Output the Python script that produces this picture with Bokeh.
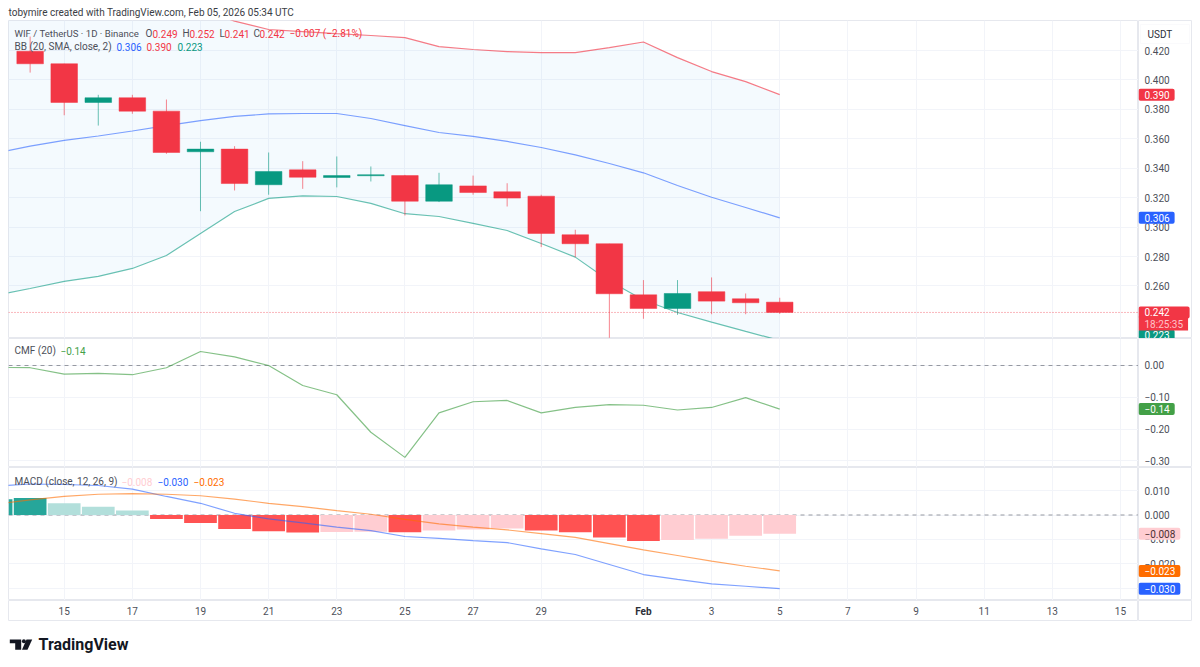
from bokeh.core.properties import value
from bokeh.embed import file_html
from bokeh.layouts import column, row
from bokeh.models import BoxAnnotation, ColumnDataSource, FixedTicker, Label, Range1d, Span
from bokeh.plotting import figure
from bokeh.resources import INLINE

# ---------------- data ----------------
candle_days = list(range(14, 37))
opens  = [0.4195,0.4110,0.3847,0.3879,0.3788,0.3512,0.3530,0.3288,0.3389,0.3337,0.3349,0.3350,0.3176,0.3280,0.3240,0.3210,0.2948,0.2887,0.2540,0.2447,0.2561,0.2513,0.2490]
highs  = [0.4295,0.4110,0.3899,0.3899,0.3867,0.3580,0.3550,0.3507,0.3448,0.3480,0.3412,0.3355,0.3369,0.3350,0.3298,0.3220,0.2982,0.2887,0.2640,0.2640,0.2658,0.2549,0.2520]
lows   = [0.4050,0.3760,0.3690,0.3770,0.3498,0.3108,0.3249,0.3220,0.3260,0.3270,0.3310,0.3079,0.3170,0.3220,0.3140,0.2864,0.2796,0.2248,0.2377,0.2404,0.2408,0.2408,0.2410]
closes = [0.4110,0.3847,0.3879,0.3788,0.3507,0.3530,0.3296,0.3378,0.3339,0.3350,0.3356,0.3176,0.3288,0.3235,0.3197,0.2957,0.2887,0.2547,0.2447,0.2549,0.2497,0.2486,0.2420]

line_days = list(range(13, 37))
bb_upper = [0.480,0.475,0.470,0.465,0.460,0.455,0.448,0.4400,0.4343,0.4329,0.4315,0.4302,0.4288,0.4227,0.4207,0.4193,0.4186,0.4186,0.4220,0.4258,0.4152,0.4057,0.3989,0.3900]
bb_basis = [0.3504,0.3550,0.3589,0.3619,0.3653,0.3690,0.3724,0.3752,0.3769,0.3772,0.3772,0.3738,0.3690,0.3643,0.3616,0.3582,0.3541,0.3491,0.3432,0.3369,0.3283,0.3203,0.3133,0.3063]
bb_lower = [0.2536,0.2583,0.2631,0.2665,0.2719,0.2807,0.2957,0.3106,0.3195,0.3212,0.3208,0.3161,0.3091,0.3072,0.3025,0.2977,0.2889,0.2796,0.2634,0.2505,0.2420,0.2354,0.2291,0.2230]

cmf_values = [-0.006,-0.007,-0.027,-0.025,-0.029,-0.007,0.044,0.027,0.000,-0.063,-0.092,-0.210,-0.289,-0.149,-0.114,-0.110,-0.149,-0.132,-0.123,-0.125,-0.140,-0.132,-0.101,-0.137]

macd_hist = [0.0065,0.0070,0.0048,0.0034,0.0018,-0.0016,-0.0033,-0.0057,-0.0067,-0.0072,-0.0070,-0.0069,-0.0071,-0.0063,-0.0059,-0.0055,-0.0064,-0.0071,-0.0092,-0.0107,-0.0102,-0.0097,-0.0085,-0.0077]
macd_line = [0.0119,0.0127,0.0125,0.0121,0.0106,0.0076,0.0048,0.0007,-0.0016,-0.0032,-0.0050,-0.0064,-0.0088,-0.0096,-0.0105,-0.0113,-0.0139,-0.0162,-0.0203,-0.0244,-0.0264,-0.0282,-0.0292,-0.0302]
macd_signal = [0.0045,0.0062,0.0076,0.0085,0.0088,0.0085,0.0079,0.0065,0.0048,0.0034,0.0018,0.0003,-0.0018,-0.0036,-0.0050,-0.0061,-0.0076,-0.0092,-0.0117,-0.0143,-0.0166,-0.0189,-0.0210,-0.0229]

tick_days = [15,17,19,21,23,25,27,29,34,36,38,40,42,44,46]
tick_labels = ["15","17","19","21","23","25","27","29","3","5","7","9","11","13","15"]
month_day = 32
month_label = "Feb"
price_ticks = [0.26,0.28,0.30,0.32,0.34,0.36,0.38,0.40,0.42]
price_tick_labels = ["0.260","0.280","0.300","0.320","0.340","0.360","0.380","0.400","0.420"]
cmf_ticks = [0.0,-0.1,-0.2,-0.3]
cmf_tick_labels = ["0.00","−0.10","−0.20","−0.30"]
macd_ticks = [0.01,0.0,-0.01,-0.02,-0.03]
macd_tick_labels = ["0.010","0.000","−0.010","−0.020","−0.030"]

# ---------------- styling ----------------
FONT = "Roboto"
RED, GREEN, BLUE, ORANGE = "#f23645", "#089981", "#2962ff", "#ff6d00"
GRID, EDGE, TXT = "#f2f4f9", "#e6e8ee", "#4c4f59"
X_RANGE = (13.365, 46.53)
FIG_W = 1130
RIGHT = 54
LEFT = 8
LW = 1.2


def bare(width, height, x_range, y_range, left=0):
    """A figure whose plotting frame is the whole of its canvas (plus an optional left margin)."""
    p = figure(frame_width=width, frame_height=height, output_backend="svg", toolbar_location=None,
               x_range=x_range, y_range=y_range, x_axis_location=None, y_axis_location=None,
               min_border_left=left, min_border_right=0, min_border_top=0, min_border_bottom=0,
               background_fill_color="white", border_fill_color="white")
    p.outline_line_color = None
    p.xgrid.visible = False
    p.ygrid.visible = False
    return p


def make_pane(y_range, frame_h, y_ticks):
    p = bare(FIG_W, frame_h, Range1d(*X_RANGE), Range1d(*y_range), left=LEFT)
    p.outline_line_color = EDGE
    all_days = sorted(tick_days + [month_day])
    p.xgrid.visible = True
    p.ygrid.visible = True
    p.xgrid.ticker = FixedTicker(ticks=all_days)
    p.ygrid.ticker = FixedTicker(ticks=y_ticks)
    p.xgrid.grid_line_color = GRID
    p.ygrid.grid_line_color = GRID
    return p


def make_strip(pane, frame_h, ticks, labels):
    s = bare(RIGHT, frame_h, Range1d(0, RIGHT), pane.y_range)
    s.outline_line_color = EDGE
    src = ColumnDataSource(dict(x=[6] * len(ticks), y=ticks, t=labels))
    s.text("x", "y", "t", source=src, text_font=value(FONT), text_font_size="10px", text_color=TXT,
           text_baseline="middle", text_align="left")
    return s


def text(p, frame_bottom, px, py, s, color=TXT, size="10px", style="normal", left=8):
    p.add_layout(Label(x=px - left, y=frame_bottom - py, x_units="screen", y_units="screen", text=s,
                       text_color=color, text_font=FONT, text_font_size=size, text_font_style=style,
                       text_baseline="middle", text_align="left"))


def tag(s, val, label, bg, fg="white", pad_r=5, offset=0):
    s.add_layout(Label(x=0, y=val, x_units="data", y_units="data", y_offset=offset, text=label,
                       text_color=fg, text_font=FONT, text_font_size="10px",
                       text_baseline="middle", text_align="left", border_radius=2,
                       background_fill_color=bg, padding=(6, pad_r, 2, 2)))


# ---------------- header ----------------
head = bare(1192, 20, Range1d(0, 1192), Range1d(0, 20))
text(head, 20, 8, 12, "tobymire created with TradingView.com, Feb 05, 2026 05:34 UTC", "#3a3d45", "10px", left=0)

# ---------------- main price pane ----------------
main = make_pane((0.2243, 0.4404), 318, price_ticks)
main.varea(line_days, bb_lower, bb_upper, fill_color="#2196f3", fill_alpha=0.05)
main.line(line_days, bb_upper, line_color=RED, line_width=LW, line_alpha=0.65)
main.line(line_days, bb_basis, line_color=BLUE, line_width=LW, line_alpha=0.6)
main.line(line_days, bb_lower, line_color=GREEN, line_width=LW, line_alpha=0.6)

candle_colors = [GREEN if c >= o else RED for o, c in zip(opens, closes)]
candles = ColumnDataSource(dict(day=candle_days, o=opens, h=highs, l=lows, c=closes, color=candle_colors,
                                top=[max(a, b) for a, b in zip(opens, closes)],
                                bottom=[min(a, b) for a, b in zip(opens, closes)]))
main.segment("day", "h", "day", "l", source=candles, line_color="color", line_width=1, line_alpha=0.6)
main.vbar("day", 0.78, "top", "bottom", source=candles, fill_color="color", line_color="color", line_width=0.5)
main.add_layout(Span(location=closes[-1], dimension="width", line_color=RED, line_dash=[1, 2],
                     line_alpha=0.7, line_width=1))

F0 = 338
text(main, F0, 14, 33, "WIF / TetherUS · 1D · Binance", size="9.6px")
for px, s, c in [(145, "O", TXT), (152, "0.249", RED), (182, "H", TXT), (189, "0.252", RED),
                 (219, "L", TXT), (224, "0.241", RED), (253, "C", TXT), (259, "0.242", RED),
                 (289, "−0.007 (−2.81%)", RED)]:
    text(main, F0, px, 33, s, c)
text(main, F0, 14, 46, "BB (20, SMA, close, 2)")
text(main, F0, 116, 46, "0.306", BLUE)
text(main, F0, 146, 46, "0.390", RED)
text(main, F0, 177, 46, "0.223", GREEN)

main_strip = make_strip(main, 318, price_ticks, price_tick_labels)
main_strip.add_layout(BoxAnnotation(left=2, right=51, top=318 - 4, bottom=318 - 23,
                                    left_units="data", right_units="data", top_units="screen", bottom_units="screen",
                                    fill_color="white", fill_alpha=1, line_color="#eef0f4", line_width=1))
text(main_strip, F0, 1147, 33.5, "USDT", "#2c2f38", "10px", left=1138)
tag(main_strip, bb_upper[-1], "0.390", RED)
tag(main_strip, bb_basis[-1], "0.306", BLUE)
tag(main_strip, bb_lower[-1], "0.223", GREEN, offset=5)
main_strip.add_layout(Label(x=0, y=15, x_units="data", y_units="screen", text="18:25:35",
                            text_color="#ffc2c9", text_font=FONT, text_font_size="10px", text_baseline="middle",
                            background_fill_color=RED, padding=(6, 5, 2, 1)))
tag(main_strip, closes[-1], "0.242", RED, pad_r=20)

# ---------------- CMF pane ----------------
cmf = make_pane((-0.3208, 0.0849), 129, cmf_ticks)
cmf.add_layout(Span(location=0, dimension="width", line_color="#9598a1", line_dash=[4, 4], line_width=1, level="underlay"))
cmf.line(line_days, cmf_values, line_color="#43a047", line_width=LW, line_alpha=0.65)
text(cmf, 467, 14, 350, "CMF (20)")
text(cmf, 467, 60, 350, "−0.14", "#43a047")
cmf_strip = make_strip(cmf, 129, cmf_ticks, cmf_tick_labels)
tag(cmf_strip, cmf_values[-1], "−0.14", "#43a047")

# ---------------- MACD pane ----------------
macd = make_pane((-0.03504, 0.01947), 133, macd_ticks)
macd.add_layout(Span(location=0, dimension="width", line_color="#9598a1", line_dash=[4, 4], line_width=1, level="underlay"))

hist_colors = []
for i, v in enumerate(macd_hist):
    prev = macd_hist[i - 1] if i else 0
    if v >= 0:
        hist_colors.append("#26a69a" if v >= prev else "#b2dfdb")
    else:
        hist_colors.append("#ff5252" if v < prev else "#ffcdd2")
macd.vbar(line_days, 0.96, macd_hist, [0] * len(macd_hist), fill_color=hist_colors, line_color=None)
macd.line(line_days, macd_line, line_color=BLUE, line_width=LW, line_alpha=0.6)
macd.line(line_days, macd_signal, line_color=ORANGE, line_width=LW, line_alpha=0.6)
F2 = 600
text(macd, F2, 14, 481, "MACD (close, 12, 26, 9)")
text(macd, F2, 121, 481, "−0.008", "#ffcdd2")
text(macd, F2, 157, 481, "−0.030", BLUE)
text(macd, F2, 193, 481, "−0.023", ORANGE)
macd_strip = make_strip(macd, 133, macd_ticks, macd_tick_labels)
tag(macd_strip, macd_hist[-1], "−0.008", "#ffcdd2", fg="#4c2f33")
tag(macd_strip, macd_signal[-1], "−0.023", ORANGE)
tag(macd_strip, macd_line[-1], "−0.030", BLUE)

# ---------------- time axis ----------------
time_axis = bare(FIG_W, 21, main.x_range, Range1d(0, 21), left=LEFT)
time_axis.outline_line_color = EDGE
time_axis.text(tick_days, [10.5] * len(tick_days), tick_labels, text_font=value(FONT), text_font_size="10px",
               text_color=TXT, text_baseline="middle", text_align="center")
time_axis.text([month_day], [10.5], [month_label], text_font=value(FONT), text_font_size="10px", text_font_style="bold",
               text_color="#2c2f38", text_baseline="middle", text_align="center")
corner = bare(RIGHT, 21, Range1d(0, RIGHT), Range1d(0, 21))
corner.outline_line_color = EDGE

# ---------------- footer with the logo ----------------
foot = bare(1192, 38, Range1d(0, 1192), Range1d(38, 0))
foot.patch([9.3, 20.7, 20.7, 14.7, 14.7, 9.3], [18, 18, 28.3, 28.3, 21.7, 21.7], fill_color="#131722", line_color=None)
foot.scatter([23.4], [19.7], size=4, fill_color="#131722", line_color=None)
foot.patch([26, 31.7, 27, 21.5], [18, 18, 28.3, 28.3], fill_color="#131722", line_color=None)
text(foot, 38, 38, 23, "TradingView", "#131722", "16px", "bold", left=0)

layout = column(head,
                row(main, main_strip, spacing=0),
                row(cmf, cmf_strip, spacing=0),
                row(macd, macd_strip, spacing=0),
                row(time_axis, corner, spacing=0),
                foot, spacing=0)
open("out.html", "w").write(file_html(layout, INLINE))
